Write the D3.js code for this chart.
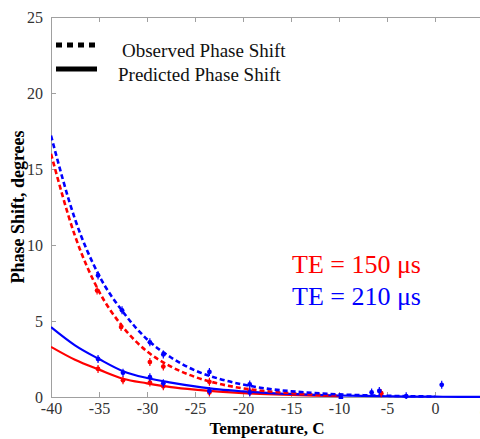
<!DOCTYPE html>
<html>
<head>
<meta charset="utf-8">
<script src="https://cdn.jsdelivr.net/npm/d3@7"></script>
<style>
  body { margin: 0; background: #fff; }
  text { font-family: "Liberation Serif", "Times New Roman", serif; }
</style>
</head>
<body>
<div id="chart"></div>
<script>
const curveTemps = [-40, -37.5, -35, -32.5, -30, -27.5, -25, -22.5, -20, -17.5, -15, -12.5, -10, -7.5, -5, -2.5, 0, 2.5, 5];

// observed (dashed) fits
const obs150 = [16.0, 10.6, 6.95, 4.6, 3.0, 2.0, 1.32, 0.87, 0.57, 0.38, 0.25, 0.16, 0.11];
const obs210 = [17.2, 11.7, 8.0, 5.6, 3.8, 2.6, 1.75, 1.2, 0.82, 0.55, 0.38, 0.26, 0.17, 0.12, 0.08, 0.05, 0.03];

// predicted (solid) fits
const pred150 = [3.3, 2.45, 1.8, 1.2, 0.9, 0.65, 0.48, 0.35, 0.25, 0.18, 0.13, 0.09, 0.06];
const pred210 = [4.6, 3.4, 2.5, 1.7, 1.25, 0.95, 0.7, 0.5, 0.37, 0.27, 0.2, 0.14, 0.1, 0.07, 0.05, 0.03, 0.02, 0.01, 0.01];

// measured points  [temperature, phase shift]
const obsPts150 = [[-35.2, 7.0], [-32.7, 4.6], [-29.7, 2.3], [-28.3, 2.0], [-23.5, 1.0], [-19.3, 0.35], [-5.6, 0.25]];
const obsPts210 = [[-35.1, 8.0], [-32.6, 5.7], [-29.7, 3.6], [-28.3, 2.8], [-23.5, 1.65], [-19.3, 0.83],
                   [-9.8, -0.05], [-6.6, 0.3], [-5.8, 0.4], [-3.0, 0.05], [0.7, 0.8]];
const predPts150 = [[-35.1, 1.85], [-32.5, 1.1], [-29.7, 0.95], [-28.3, 0.7], [-23.5, 0.3], [-19.3, 0.35]];
const predPts210 = [[-35.1, 2.5], [-32.5, 1.6], [-29.7, 1.3], [-28.3, 0.9], [-23.5, 0.4], [-19.3, 0.3]];

const xTicks = [-40, -35, -30, -25, -20, -15, -10, -5, 0, 5];
const yTicks = [0, 5, 10, 15, 20, 25];

const RED = "#ff0000", BLUE = "#0000ff";

const W = 480, H = 439;
const margin = {top: 17, left: 51, bottom: 42, right: -3};

const svg = d3.select("#chart").append("svg")
    .attr("width", W).attr("height", H);

const x = d3.scaleLinear().domain([-40, 5]).range([margin.left, W - margin.right]);
const y = d3.scaleLinear().domain([0, 25]).range([H - margin.bottom, margin.top]);

// axes (MATLAB style box, inward ticks)
const axisColor = "#a0a0a0";
const plainNum = d => String(d);   // hyphen minus, like the original
function styleAxis(g) {
    g.select(".domain").attr("stroke", axisColor);
    g.selectAll(".tick line").attr("stroke", axisColor);
    g.selectAll(".tick text").attr("fill", "#333").style("font-size", "16px")
        .style("font-family", "'Liberation Serif', serif");
}

svg.append("g")
    .attr("transform", "translate(0," + y(0) + ")")
    .call(d3.axisBottom(x).tickValues(xTicks).tickFormat(plainNum)
        .tickSizeInner(-5).tickSizeOuter(0).tickPadding(6))
    .call(styleAxis);

svg.append("g")
    .attr("transform", "translate(0," + y(25) + ")")
    .call(d3.axisTop(x).tickValues(xTicks).tickSizeInner(-5).tickSizeOuter(0).tickFormat(""))
    .call(styleAxis);

svg.append("g")
    .attr("transform", "translate(" + x(-40) + ",0)")
    .call(d3.axisLeft(y).tickValues(yTicks).tickFormat(plainNum)
        .tickSizeInner(-5).tickSizeOuter(0).tickPadding(8))
    .call(styleAxis);

// clip the curves to the plot
svg.append("clipPath").attr("id", "plot")
    .append("rect")
    .attr("x", x(-40)).attr("y", y(25))
    .attr("width", x(5) - x(-40)).attr("height", y(0) - y(25) + 2);

const plot = svg.append("g").attr("clip-path", "url(#plot)");

const line = d3.line()
    .x(d => x(d[0]))
    .y(d => y(d[1]))
    .curve(d3.curveMonotoneX);

function pairs(vals) {
    return vals.map((v, i) => [curveTemps[i], v]);
}

const curves = [
    {vals: pred150, color: RED, dash: null},
    {vals: pred210, color: BLUE, dash: null},
    {vals: obs150, color: RED, dash: "5,3"},
    {vals: obs210, color: BLUE, dash: "5,3"}
];

curves.forEach(c => {
    plot.append("path")
        .datum(pairs(c.vals))
        .attr("d", line)
        .attr("fill", "none")
        .attr("stroke", c.color)
        .attr("stroke-width", c.dash ? 2.6 : 2.2)
        .attr("stroke-dasharray", c.dash);
});

// data markers
const markers = [
    {pts: obsPts150, color: RED},
    {pts: predPts150, color: RED},
    {pts: obsPts210, color: BLUE},
    {pts: predPts210, color: BLUE}
];

markers.forEach(m => {
    const g = plot.append("g");
    g.selectAll("circle")
        .data(m.pts)
        .enter()
        .append("circle")
        .attr("cx", d => x(d[0]))
        .attr("cy", d => y(d[1]))
        .attr("r", 2.4)
        .attr("fill", m.color);
    g.selectAll("line")
        .data(m.pts)
        .enter()
        .append("line")
        .attr("x1", d => x(d[0])).attr("x2", d => x(d[0]))
        .attr("y1", d => y(d[1]) - 4).attr("y2", d => y(d[1]) + 4)
        .attr("stroke", m.color)
        .attr("stroke-width", 1.2);
});

// legend
svg.append("line")
    .attr("x1", 56).attr("x2", 97).attr("y1", 45).attr("y2", 45)
    .attr("stroke", "#000").attr("stroke-width", 5)
    .attr("stroke-dasharray", "6,5");
svg.append("line")
    .attr("x1", 56).attr("x2", 97).attr("y1", 69).attr("y2", 69)
    .attr("stroke", "#000").attr("stroke-width", 5);

svg.append("text").attr("x", 122).attr("y", 57)
    .style("font-size", "19px").attr("fill", "#111")
    .text("Observed Phase Shift");
svg.append("text").attr("x", 118).attr("y", 81)
    .style("font-size", "19px").attr("fill", "#111")
    .text("Predicted Phase Shift");

// TE labels
svg.append("text").attr("x", 292).attr("y", 273)
    .style("font-size", "26px").attr("fill", RED)
    .text("TE = 150 \u03bcs");
svg.append("text").attr("x", 292).attr("y", 305)
    .style("font-size", "26px").attr("fill", BLUE)
    .text("TE = 210 \u03bcs");

// axis titles
svg.append("text")
    .attr("x", (x(-40) + x(5)) / 2).attr("y", 434)
    .attr("text-anchor", "middle")
    .style("font-size", "17px").style("font-weight", "bold")
    .text("Temperature, C");

svg.append("text")
    .attr("transform", "translate(24," + ((y(0) + y(25)) / 2) + ") rotate(-90)")
    .attr("text-anchor", "middle")
    .style("font-size", "18px").style("font-weight", "bold")
    .text("Phase Shift, degrees");
</script>
</body>
</html>
